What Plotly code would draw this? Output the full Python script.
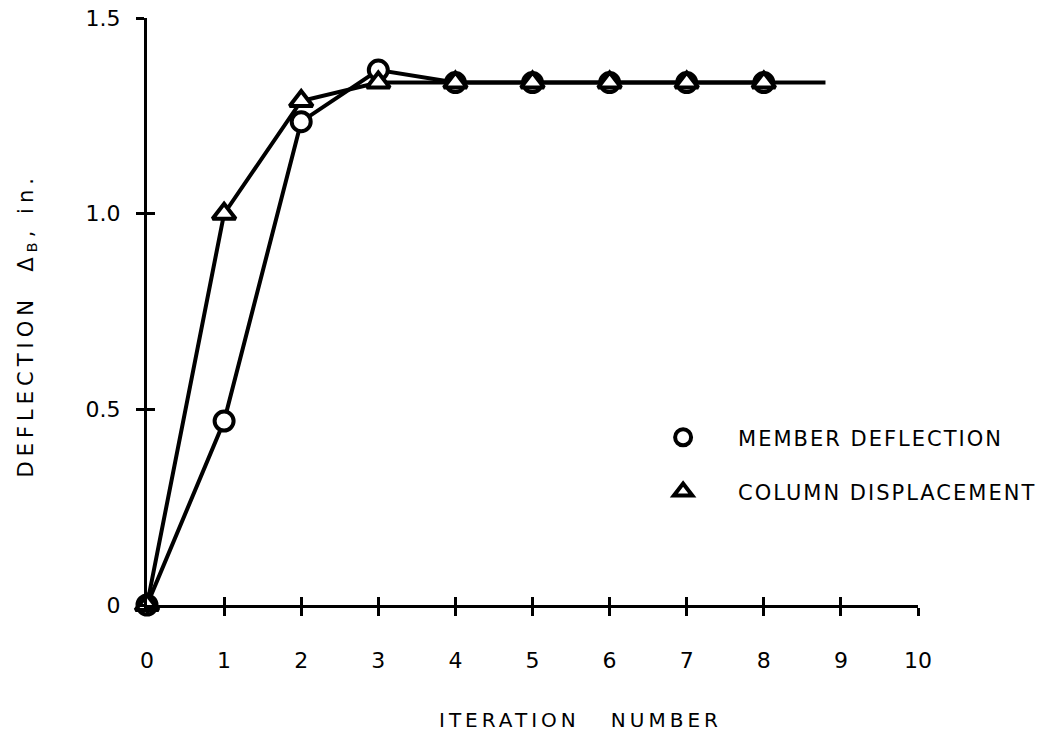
import plotly.graph_objects as go

# ---- data ----
iterations = [0, 1, 2, 3, 4, 5, 6, 7, 8]
member_deflection = [0.0, 0.47, 1.235, 1.367, 1.335, 1.335, 1.335, 1.335, 1.335]
column_displacement = [0.0, 1.0, 1.288, 1.335, 1.335, 1.335, 1.335, 1.335, 1.335]
tail_x = [8, 8.8]
tail_y = [1.335, 1.335]

x_ticks = [0, 1, 2, 3, 4, 5, 6, 7, 8, 9, 10]
x_ticklabels = ["0", "1", "2", "3", "4", "5", "6", "7", "8", "9", "10"]
y_ticks = [0, 0.5, 1.0, 1.5]
y_ticklabels = ["0", "0.5", "1.0", "1.5"]

FONT = "DejaVu Sans"
BLACK = "black"
NB = "\u00a0"

fig = go.Figure()

# converged tail line
fig.add_trace(go.Scatter(x=tail_x, y=tail_y, mode="lines",
                         line=dict(color=BLACK, width=4),
                         showlegend=False, hoverinfo="skip", cliponaxis=False))

fig.add_trace(go.Scatter(x=iterations, y=member_deflection, mode="lines+markers",
                         name="MEMBER DEFLECTION",
                         line=dict(color=BLACK, width=4),
                         marker=dict(symbol="circle", size=19, color="white",
                                     line=dict(color=BLACK, width=4)),
                         showlegend=False, cliponaxis=False))

fig.add_trace(go.Scatter(x=iterations, y=column_displacement, mode="lines+markers",
                         name="COLUMN DISPLACEMENT",
                         line=dict(color=BLACK, width=4),
                         marker=dict(symbol="triangle-up", size=20, color="white",
                                     line=dict(color=BLACK, width=4)),
                         showlegend=False, cliponaxis=False))

# legend entries (markers only)
fig.add_trace(go.Scatter(x=[None], y=[None], mode="markers", name="MEMBER DEFLECTION",
                         legendgroup="a",
                         marker=dict(symbol="circle", size=16, color="white",
                                     line=dict(color=BLACK, width=4))))
fig.add_trace(go.Scatter(x=[None], y=[None], mode="markers", name="COLUMN DISPLACEMENT",
                         legendgroup="b",
                         marker=dict(symbol="triangle-up", size=16, color="white",
                                     line=dict(color=BLACK, width=4))))

axis_common = dict(showgrid=False, zeroline=False, showline=True, automargin=False,
                   linecolor=BLACK, linewidth=3, tickcolor=BLACK,
                   tickwidth=2.5, ticklen=8)

fig.update_layout(
    width=1051, height=741,
    margin=dict(l=147, r=133, t=18, b=136),
    paper_bgcolor="white", plot_bgcolor="white",
    font=dict(family=FONT, color=BLACK, size=20),
    xaxis=dict(range=[0, 10], tickvals=x_ticks, ticktext=x_ticklabels,
               ticks="outside", ticklabelstandoff=26,
               tickfont=dict(size=22),
               **axis_common),
    yaxis=dict(range=[0, 1.5], tickvals=y_ticks, ticktext=y_ticklabels,
               ticks="outside", ticklabelstandoff=11,
               tickfont=dict(size=22),
               **axis_common),
    xaxis2=dict(overlaying="x", matches="x", range=[0, 10], tickvals=x_ticks,
                showticklabels=False, ticks="inside", ticklen=8, tickwidth=2.5,
                automargin=False,
                tickcolor=BLACK, showline=False, showgrid=False, zeroline=False),
    yaxis2=dict(overlaying="y", matches="y", range=[0, 1.5], tickvals=y_ticks,
                showticklabels=False, ticks="inside", ticklen=8, tickwidth=2.5,
                automargin=False,
                tickcolor=BLACK, showline=False, showgrid=False, zeroline=False),
    legend=dict(x=0.624, y=0.32, xanchor="left", yanchor="top",
                bgcolor="rgba(0,0,0,0)", font=dict(size=21, family=FONT),
                tracegroupgap=24, itemwidth=100, itemsizing="trace"),
    showlegend=True,
    annotations=[
        dict(text="ITERATION" + NB * 3 + "NUMBER", xref="paper", yref="paper",
             x=(580 - 147) / 771, y=(605 - 720) / 587, xanchor="center", yanchor="middle",
             showarrow=False, font=dict(size=20, family=FONT, color=BLACK)),
        dict(text="DEFLECTION" + NB * 2 + "Δ<sub>B</sub>," + NB + "in.",
             xref="paper", yref="paper", textangle=-90,
             x=(27 - 147) / 771, y=(605 - 326) / 587, xanchor="center", yanchor="middle",
             showarrow=False, font=dict(size=21, family=FONT, color=BLACK)),
    ],
)

# dummy trace to activate the crossing-tick overlay axes
fig.add_trace(go.Scatter(x=[None], y=[None], xaxis="x2", yaxis="y2",
                         showlegend=False, hoverinfo="skip"))

post = (
    "document.body.style.margin='0';"
    "var s=document.createElement('style');"
    "s.textContent='body{margin:0;overflow:hidden}"
    ".legendtext{letter-spacing:2px}"
    ".legend .scrollbox{clip-path:none !important}"
    ".annotation-text, .annotation-text tspan{letter-spacing:4px}"
    ".annotation[data-index=\"1\"] .annotation-text, "
    ".annotation[data-index=\"1\"] .annotation-text tspan{letter-spacing:5px}';"
    "document.head.appendChild(s);"
)

fig.write_html("out.html", post_script=post, config={"displayModeBar": False})
